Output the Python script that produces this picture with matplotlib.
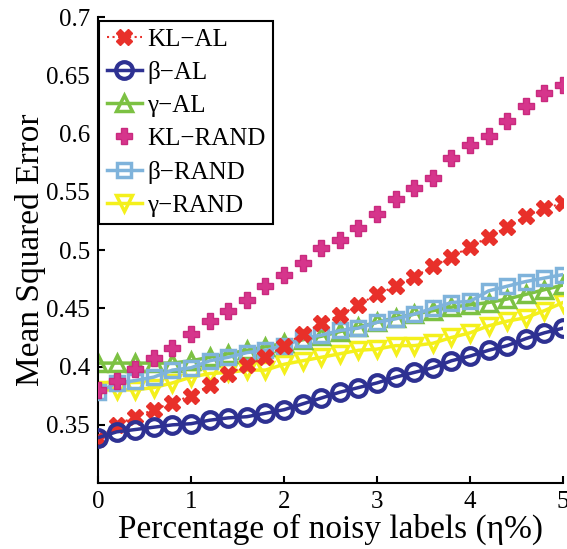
import matplotlib.pyplot as plt
import numpy as np

# noise level (%) and MSE of each method
eta = np.round(np.arange(0, 5.01, 0.2), 1)

kl_al = [0.338, 0.350, 0.357, 0.363, 0.369, 0.375, 0.384, 0.394, 0.401, 0.408,
         0.418, 0.428, 0.437, 0.444, 0.453, 0.462, 0.469, 0.477, 0.486, 0.494,
         0.503, 0.511, 0.520, 0.529, 0.536, 0.540]
beta_al = [0.339, 0.344, 0.346, 0.348, 0.350, 0.351, 0.354, 0.356, 0.357, 0.360,
           0.363, 0.368, 0.373, 0.378, 0.382, 0.386, 0.391, 0.395, 0.399, 0.405,
           0.409, 0.414, 0.418, 0.424, 0.429, 0.433]
gamma_al = [0.403, 0.403, 0.403, 0.403, 0.403, 0.405, 0.408, 0.411, 0.414, 0.417,
            0.420, 0.423, 0.426, 0.430, 0.434, 0.438, 0.442, 0.445, 0.448, 0.451,
            0.453, 0.455, 0.458, 0.462, 0.466, 0.470]
kl_rand = [0.380, 0.388, 0.398, 0.407, 0.416, 0.428, 0.439, 0.448, 0.457, 0.469,
           0.479, 0.489, 0.502, 0.509, 0.519, 0.531, 0.544, 0.553, 0.562, 0.579,
           0.590, 0.598, 0.611, 0.624, 0.635, 0.642]
beta_rand = [0.378, 0.386, 0.388, 0.391, 0.397, 0.399, 0.405, 0.408, 0.412, 0.414,
             0.418, 0.424, 0.427, 0.431, 0.433, 0.438, 0.441, 0.445, 0.450, 0.455,
             0.456, 0.465, 0.469, 0.473, 0.476, 0.479]
gamma_rand = [0.380, 0.380, 0.380, 0.382, 0.386, 0.391, 0.394, 0.395, 0.397, 0.397,
              0.402, 0.405, 0.408, 0.411, 0.414, 0.415, 0.418, 0.418, 0.420, 0.425,
              0.429, 0.435, 0.439, 0.442, 0.448, 0.455]

plt.rcParams['font.family'] = 'Liberation Serif'

fig = plt.figure(figsize=(5.67, 5.49), dpi=100)
ax = fig.add_axes([0.173, 0.120, 0.820, 0.849])

ax.plot(eta, gamma_rand, color='#F4F01C', lw=2.5, marker='v', ms=12,
        mfc='none', mew=2.5, label='γ−RAND', zorder=2)
ax.plot(eta, beta_rand, color='#7FB3DB', lw=2.5, marker='s', ms=10,
        mfc='none', mew=2.5, label='β−RAND', zorder=3)
ax.plot(eta, gamma_al, color='#7CC143', lw=2.5, marker='^', ms=12,
        mfc='none', mew=2.5, label='γ−AL', zorder=2)
ax.plot(eta, kl_rand, color='#D6358C', ls='none', marker='P', ms=11,
        mec='#C92A7E', label='KL−RAND', zorder=4)
ax.plot(eta, kl_al, color='#E8302A', ls=':', lw=1.5, marker='X', ms=11,
        mec='#E8302A', label='KL−AL', zorder=4)
ax.plot(eta, beta_al, color='#2E3192', lw=2.5, marker='o', ms=12,
        mfc='none', mew=3, label='β−AL', zorder=5)

ax.set_xlim(0, 5)
ax.set_ylim(0.3, 0.7)
ax.set_xticks([0, 1, 2, 3, 4, 5])
ax.set_yticks([0.35, 0.4, 0.45, 0.5, 0.55, 0.6, 0.65, 0.7])
ax.set_yticklabels(['0.35', '0.4', '0.45', '0.5', '0.55', '0.6', '0.65', '0.7'])
ax.tick_params(labelsize=18, width=1.5, length=5, direction='in', pad=6)
ax.spines[['right', 'top']].set_visible(False)
ax.spines[['left', 'bottom']].set_linewidth(1.5)

ax.set_xlabel('Percentage of noisy labels (η%)', fontsize=24, labelpad=0)
ax.set_ylabel('Mean Squared Error', fontsize=24, labelpad=0)

handles, labels = ax.get_legend_handles_labels()
order = [4, 5, 2, 3, 1, 0]
leg = ax.legend([handles[i] for i in order], [labels[i] for i in order],
                loc='upper left', bbox_to_anchor=(0.003, 0.992), fontsize=18,
                handlelength=1.4, handletextpad=0.2, labelspacing=0.42,
                borderpad=0.3, borderaxespad=0, fancybox=False, framealpha=1)
leg.get_frame().set_edgecolor('black')
leg.get_frame().set_linewidth(1.5)

fig.savefig('out.png', dpi=100)
